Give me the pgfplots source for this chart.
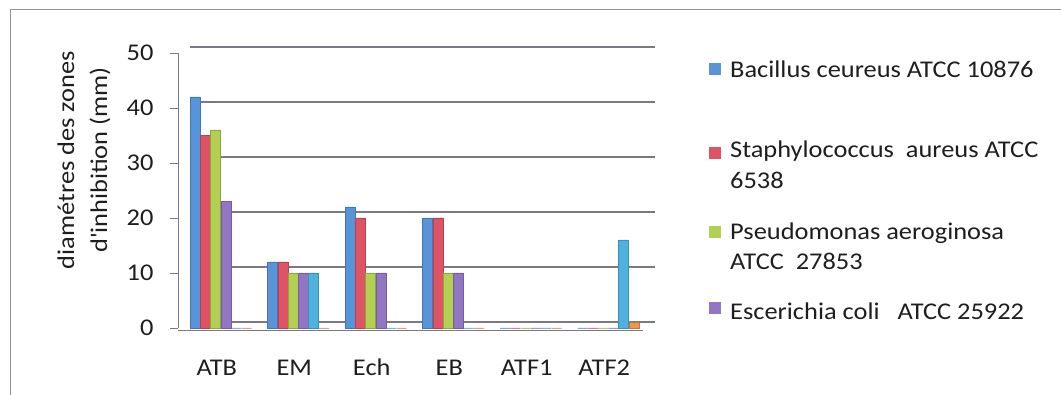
\documentclass[border=0pt]{standalone}
\usepackage{pgfplots}
\pgfplotsset{compat=1.18}
\usepackage{fontspec}
\setmainfont{Carlito}[FakeStretch=1.1]

\definecolor{cBlue}{RGB}{88,148,218}
\definecolor{cRed}{RGB}{222,84,100}
\definecolor{cGreen}{RGB}{178,208,82}
\definecolor{cPurple}{RGB}{146,118,196}
\definecolor{cAqua}{RGB}{78,178,224}
\definecolor{cOrange}{RGB}{240,148,78}
\definecolor{txt}{RGB}{30,30,30}
\definecolor{gridc}{RGB}{125,120,130}

\begin{document}
\begin{tikzpicture}[x=1pt,y=1pt,font=\fontsize{24}{30}\selectfont]
\useasboundingbox (0,0) rectangle (1061,395);
% outer frame
\draw[gridc!80, line width=0.8pt] (10,0) -- (10,386) -- (1061,386);

\begin{axis}[
  at={(178pt,67pt)}, anchor=south west,
  scale only axis, width=465pt, height=275pt,
  ybar=0.3pt, bar width=10pt,
  xmin=-0.5, xmax=5.5, ymin=0, ymax=50,
  xtick={0,...,5},
  xticklabels={ATB,EM,Ech,EB,ATF1,ATF2},
  minor xtick={-0.5,0.5,...,5.5},
  ytick={0,10,...,50},
  axis x line*=bottom, axis y line*=left,
  axis line style={gridc, line width=0.9pt, -},
  x axis line style={yshift=-2pt},
  tick align=outside,
  major tick length=8pt, minor tick length=8pt,
  xtick style={draw=none},
  minor tick style={gridc, line width=0.9pt, yshift=-2pt},
  ytick style={gridc, line width=0.9pt},
  ymajorgrids,
  major grid style={gridc, line width=1.1pt, xshift=12pt, yshift=6pt},
  tick label style={text=txt, font=\fontsize{24}{30}\selectfont},
  yticklabel style={xshift=-13pt},
  xticklabel style={yshift=-20pt, text height=16pt, text depth=0pt},
  /pgf/number format/assume math mode=true,
  every axis plot/.append style={line width=0.6pt, xshift=4pt},
  clip=false,
]
\addplot[fill=cBlue, draw=cBlue!80!black] coordinates {(0,42) (1,12) (2,22) (3,20) (4,0) (5,0)};
\addplot[fill=cRed, draw=cRed!80!black] coordinates {(0,35) (1,12) (2,20) (3,20) (4,0) (5,0)};
\addplot[fill=cGreen, draw=cGreen!80!black] coordinates {(0,36) (1,10) (2,10) (3,10) (4,0) (5,0)};
\addplot[fill=cPurple, draw=cPurple!80!black] coordinates {(0,23) (1,10) (2,10) (3,10) (4,0) (5,0)};
\addplot[fill=cAqua, draw=cAqua!80!black] coordinates {(0,0) (1,10) (2,0) (3,0) (4,0) (5,16)};
\addplot[fill=cOrange, draw=cOrange!80!black] coordinates {(0,0) (1,0) (2,0) (3,0) (4,0) (5,1)};
\end{axis}

% y-axis title
\node[rotate=90, align=center, text=txt, font=\fontsize{24}{33}\selectfont] at (84,235)
  {diamétres des zones\\d\textquotesingle inhibition (mm)};

% legend
\begin{scope}[every node/.style={text=txt, anchor=base west, inner sep=0pt}]
  \fill[cBlue]   (709,320) rectangle (721,332);
  \node at (730,317.7) {Bacillus ceureus ATCC 10876};
  \fill[cRed]    (709,236) rectangle (721,248);
  \node at (730,237) {Staphylococcus\ \ aureus ATCC};
  \node at (730,206) {6538};
  \fill[cGreen]  (709,157) rectangle (721,169);
  \node at (730,155) {Pseudomonas aeroginosa};
  \node at (730,125) {ATCC\ \ 27853};
  \fill[cPurple] (709,81) rectangle (721,93);
  \node at (730,75) {Escerichia coli\ \ \ ATCC 25922};
\end{scope}
\end{tikzpicture}
\end{document}
